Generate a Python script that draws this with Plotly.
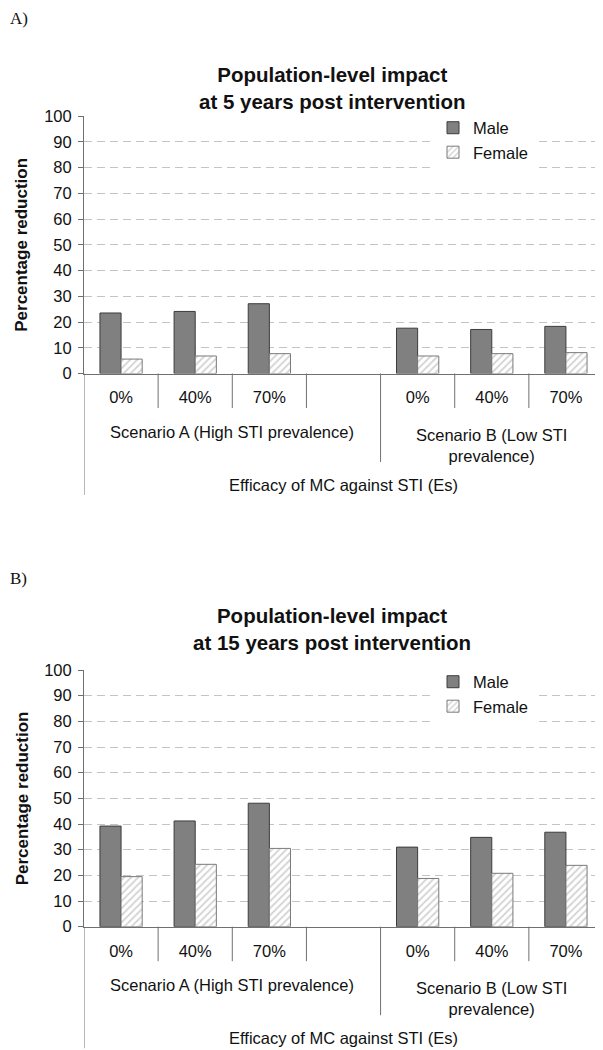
import plotly.graph_objects as go

# ---- data ----
efficacy_labels = ["0%", "40%", "70%", "", "0%", "40%", "70%"]
scenario_labels = ["Scenario A (High STI prevalence)", "Scenario B (Low STI<br>prevalence)"]
axis_group_label = "Efficacy of MC against STI (Es)"
series_names = ["Male", "Female"]
titles = ["Population-level impact<br>at 5 years post intervention",
          "Population-level impact<br>at 15 years post intervention"]
panel_tags = ["A)", "B)"]
y_ticks = [0, 10, 20, 30, 40, 50, 60, 70, 80, 90, 100]

male_5yr = [23.5, 24.1, 27.1, None, 17.6, 17.1, 18.3]
female_5yr = [5.6, 6.8, 7.7, None, 6.8, 7.7, 8.1]
male_15yr = [39.2, 41.2, 48.1, None, 31.0, 34.8, 36.8]
female_15yr = [19.5, 24.3, 30.5, None, 18.8, 20.8, 23.9]

# page body has an 8px margin; size the figure to fill the rest of the window
OFF = 8
W, H = 603 - OFF, 1050 - OFF
FONT = "Liberation Sans, Arial, sans-serif"
AXC = "#707070"
TXT = "#111111"


def px(xpix):
    return (xpix - OFF) / W


def py(ypix):
    return 1 - (ypix - OFF) / H


x_pos = list(range(len(efficacy_labels)))

fig = go.Figure()

panels = [
    dict(male=male_5yr, female=female_5yr, top=116.0, bottom=373.5, sfx="", leg="legend"),
    dict(male=male_15yr, female=female_15yr, top=670.0, bottom=926.7, sfx="2", leg="legend2"),
]

for i, p in enumerate(panels):
    xa = "x" + p["sfx"]
    ya = "y" + p["sfx"]
    fig.add_trace(go.Bar(
        x=x_pos, y=p["male"], name=series_names[0], xaxis=xa, yaxis=ya,
        marker=dict(color="#808080", line=dict(color="#3c3c3c", width=1)),
        legend=p["leg"],
    ))
    fig.add_trace(go.Bar(
        x=x_pos, y=p["female"], name=series_names[1], xaxis=xa, yaxis=ya,
        marker=dict(color="white", line=dict(color="#7a7a7a", width=1),
                    pattern=dict(shape="/", fgcolor="#a8a8a8", bgcolor="white",
                                 size=5, solidity=0.35)),
        legend=p["leg"],
    ))

    xkey = "xaxis" + p["sfx"]
    ykey = "yaxis" + p["sfx"]
    fig.update_layout({
        xkey: dict(domain=[px(84), 1], range=[-0.5, len(x_pos) - 0.5], anchor=ya,
                   tickvals=x_pos, ticktext=efficacy_labels, ticks="",
                   showline=True, linecolor=AXC, linewidth=1, showgrid=False,
                   zeroline=False, tickfont=dict(family=FONT, size=16.5, color=TXT),
                   ticklabelstandoff=9, automargin=False, fixedrange=True),
        ykey: dict(domain=[py(p["bottom"]), py(p["top"])], range=[0, 100], anchor=xa,
                   tickvals=y_ticks, ticks="outside", ticklen=5, tickcolor=AXC,
                   showline=True, linecolor=AXC, linewidth=1,
                   showgrid=True, gridcolor="#c4c4c4", griddash="8px,5px", gridwidth=1,
                   zeroline=False, tickfont=dict(family=FONT, size=16.5, color=TXT),
                   ticklabelstandoff=3, automargin=False, fixedrange=True),
    })

    b = p["bottom"]
    # category dividers
    for xv in [0.5, 1.5, 2.5, 4.5, 5.5]:
        fig.add_shape(type="line", xref=xa, yref="paper", x0=xv, x1=xv,
                      y0=py(b), y1=py(b + 34.5), line=dict(color=AXC, width=1))
    fig.add_shape(type="line", xref=xa, yref="paper", x0=3.5, x1=3.5,
                  y0=py(b), y1=py(b + 88.5), line=dict(color=AXC, width=1))
    fig.add_shape(type="line", xref=xa, yref="paper", x0=-0.5, x1=-0.5,
                  y0=py(b), y1=py(b + 121.5), line=dict(color=AXC, width=1))

    # scenario labels
    fig.add_annotation(x=1.5, y=py(b + 58.5), xref=xa, yref="paper", text=scenario_labels[0],
                       showarrow=False, xanchor="center", yanchor="middle",
                       font=dict(family=FONT, size=16.5, color=TXT))
    fig.add_annotation(x=5.0, y=py(b + 71.5), xref=xa, yref="paper", text=scenario_labels[1],
                       showarrow=False, xanchor="center", yanchor="middle",
                       font=dict(family=FONT, size=16.5, color=TXT))
    fig.add_annotation(x=3.0, y=py(b + 111.5), xref=xa, yref="paper", text=axis_group_label,
                       showarrow=False, xanchor="center", yanchor="middle",
                       font=dict(family=FONT, size=16.5, color=TXT))

    # y axis title
    fig.add_annotation(x=px(22), y=py((p["top"] + b) / 2), xref="paper", yref="paper",
                       text="<b>Percentage reduction</b>", textangle=-90, showarrow=False,
                       xanchor="center", yanchor="middle",
                       font=dict(family=FONT, size=17, color=TXT))

# chart titles
for t, yc in zip(titles, [88, 629]):
    fig.add_annotation(x=px(332), y=py(yc), xref="paper", yref="paper", text="<b>" + t + "</b>",
                       showarrow=False, align="center", xanchor="center", yanchor="middle",
                       font=dict(family=FONT, size=20.5, color=TXT))

# panel tags
for tag, yc in zip(panel_tags, [19, 578]):
    fig.add_annotation(x=0, y=py(yc), xref="paper", yref="paper", text=tag,
                       xanchor="left", yanchor="middle", showarrow=False,
                       font=dict(family="Liberation Serif, Times New Roman, serif",
                                 size=17, color=TXT))

legend_style = dict(bgcolor="white", borderwidth=0, xanchor="left", yanchor="top",
                    font=dict(family=FONT, size=16.5, color=TXT), tracegroupgap=0,
                    itemclick=False)
fig.update_layout(
    width=W, height=H, margin=dict(l=0, r=0, t=0, b=0, autoexpand=False),
    paper_bgcolor="white", plot_bgcolor="white",
    barmode="group", bargap=0.43, bargroupgap=0,
    legend=dict(x=px(433), y=py(110.5), **legend_style),
    legend2=dict(x=px(433), y=py(664.5), **legend_style),
    showlegend=True,
)

fig.write_html("out.html")
